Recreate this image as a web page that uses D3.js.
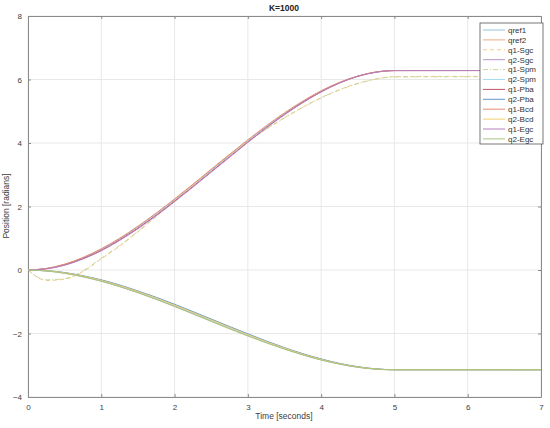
<!DOCTYPE html>
<html>
<head>
<meta charset="utf-8">
<script src="https://cdn.jsdelivr.net/npm/d3@7"></script>
<style>
  body { margin: 0; background: #fff; }
  text { font-family: "Liberation Sans", Arial, sans-serif; }
</style>
</head>
<body>
<svg id="chart" width="550" height="428"></svg>
<script>
// time samples (s)
let time = [0, 0.25, 0.5, 0.75, 1, 1.25, 1.5, 1.75, 2, 2.25, 2.5, 2.75, 3, 3.25, 3.5, 3.75, 4, 4.25, 4.5, 4.75, 5, 7];

// joint 1
let qref1 = [0, 0.046, 0.176, 0.382, 0.653, 0.982, 1.357, 1.770, 2.212, 2.672, 3.142, 3.611, 4.072, 4.513, 4.926, 5.301, 5.630, 5.901, 6.107, 6.238, 6.283, 6.283];
let q1Sgc = [0, -0.33, -0.29, -0.05, 0.35, 0.75, 1.20, 1.68, 2.18, 2.68, 3.17, 3.64, 4.05, 4.44, 4.80, 5.13, 5.43, 5.68, 5.88, 6.02, 6.09, 6.10];
let q1Spm = [0, -0.31, -0.27, -0.03, 0.37, 0.77, 1.22, 1.70, 2.19, 2.69, 3.17, 3.63, 4.04, 4.43, 4.79, 5.12, 5.42, 5.67, 5.87, 6.01, 6.08, 6.09];
let q1Pba = [0, 0.040, 0.160, 0.360, 0.620, 0.950, 1.320, 1.730, 2.170, 2.630, 3.100, 3.570, 4.030, 4.480, 4.900, 5.280, 5.610, 5.890, 6.100, 6.230, 6.280, 6.283];
let q1Bcd = [0, 0.050, 0.185, 0.395, 0.670, 1.000, 1.380, 1.795, 2.240, 2.700, 3.170, 3.640, 4.100, 4.540, 4.950, 5.320, 5.645, 5.910, 6.110, 6.240, 6.283, 6.283];
let q1Egc = [0, 0.035, 0.150, 0.345, 0.605, 0.930, 1.300, 1.710, 2.150, 2.610, 3.080, 3.550, 4.020, 4.470, 4.890, 5.270, 5.610, 5.890, 6.100, 6.230, 6.280, 6.283];

// joint 2
let qref2 = [0, -0.023, -0.088, -0.191, -0.327, -0.491, -0.679, -0.885, -1.106, -1.336, -1.571, -1.806, -2.036, -2.257, -2.463, -2.651, -2.815, -2.951, -3.054, -3.119, -3.142, -3.142];
let q2Sgc = [0, -0.030, -0.100, -0.210, -0.350, -0.520, -0.710, -0.920, -1.140, -1.370, -1.600, -1.830, -2.060, -2.280, -2.480, -2.670, -2.830, -2.960, -3.060, -3.120, -3.142, -3.142];
let q2Spm = [0, -0.025, -0.090, -0.195, -0.330, -0.500, -0.690, -0.900, -1.120, -1.350, -1.585, -1.820, -2.050, -2.270, -2.475, -2.660, -2.820, -2.955, -3.055, -3.120, -3.142, -3.142];
let q2Pba = [0, -0.020, -0.080, -0.180, -0.310, -0.470, -0.660, -0.860, -1.080, -1.310, -1.545, -1.780, -2.010, -2.235, -2.445, -2.635, -2.800, -2.940, -3.045, -3.115, -3.140, -3.142];
let q2Bcd = [0, -0.023, -0.088, -0.191, -0.327, -0.491, -0.679, -0.885, -1.106, -1.336, -1.571, -1.806, -2.036, -2.257, -2.463, -2.651, -2.815, -2.951, -3.054, -3.119, -3.142, -3.142];
let q2Egc = [0, -0.030, -0.105, -0.215, -0.355, -0.525, -0.715, -0.925, -1.150, -1.385, -1.620, -1.855, -2.080, -2.295, -2.495, -2.675, -2.835, -2.965, -3.065, -3.125, -3.142, -3.142];

let xTicks = [0, 1, 2, 3, 4, 5, 6, 7];
let yTicks = [-4, -2, 0, 2, 4, 6, 8];

let seriesNames = ["qref1", "qref2", "q1-Sgc", "q2-Sgc", "q1-Spm", "q2-Spm", "q1-Pba", "q2-Pba", "q1-Bcd", "q2-Bcd", "q1-Egc", "q2-Egc"];
let seriesValues = [qref1, qref2, q1Sgc, q2Sgc, q1Spm, q2Spm, q1Pba, q2Pba, q1Bcd, q2Bcd, q1Egc, q2Egc];
let seriesColors = ["#94c3dc", "#eba888", "#f3c98a", "#b996c6", "#c9d79c", "#a6dcf2", "#c0566a", "#5e98cc", "#e88a6a", "#f0cd6e", "#b77fbf", "#a6c67c"];
let seriesDash = ["", "", "4,3", "", "5,2,1,2", "", "", "", "", "", "", ""];

let svg = d3.select("#chart");
let plotLeft = 28, plotRight = 541, plotTop = 16, plotBottom = 397;

let x = d3.scaleLinear().domain([0, 7]).range([plotLeft, plotRight]);
let y = d3.scaleLinear().domain([-4, 8]).range([plotBottom, plotTop]);

// grid
let grid = svg.append("g");
grid.selectAll(".gx").data(xTicks).enter().append("line")
  .attr("x1", d => x(d)).attr("x2", d => x(d))
  .attr("y1", plotTop).attr("y2", plotBottom)
  .attr("stroke", "#e8e8e8").attr("stroke-width", 1);
grid.selectAll(".gy").data(yTicks).enter().append("line")
  .attr("x1", plotLeft).attr("x2", plotRight)
  .attr("y1", d => y(d)).attr("y2", d => y(d))
  .attr("stroke", "#e8e8e8").attr("stroke-width", 1);

// axes, ticks pointing inward like MATLAB
let tickStyle = g => {
  g.select(".domain").attr("stroke", "#8a8a8a");
  g.selectAll(".tick line").attr("stroke", "#8a8a8a");
  g.selectAll(".tick text").attr("fill", "#404040").style("font-size", "8px");
};

svg.append("g").attr("transform", `translate(0,${plotBottom})`)
  .call(d3.axisBottom(x).tickValues(xTicks).tickSize(-3).tickSizeOuter(0).tickPadding(7).tickFormat(d3.format("d")))
  .call(tickStyle);
svg.append("g").attr("transform", `translate(0,${plotTop})`)
  .call(d3.axisTop(x).tickValues(xTicks).tickSize(-3).tickSizeOuter(0).tickFormat(""))
  .call(tickStyle);
svg.append("g").attr("transform", `translate(${plotLeft},0)`)
  .call(d3.axisLeft(y).tickValues(yTicks).tickSize(-3).tickSizeOuter(0).tickPadding(6).tickFormat(d => d < 0 ? "\u2212" + Math.abs(d) : d))
  .call(tickStyle);
svg.append("g").attr("transform", `translate(${plotRight},0)`)
  .call(d3.axisRight(y).tickValues(yTicks).tickSize(-3).tickSizeOuter(0).tickFormat(""))
  .call(tickStyle);

// lines
let line = d3.line()
  .x((d, i) => x(time[i]))
  .y(d => y(d))
  .curve(d3.curveMonotoneX);

let lines = svg.append("g");
seriesValues.forEach((vals, i) => {
  lines.append("path")
    .attr("d", line(vals))
    .attr("fill", "none")
    .attr("stroke", seriesColors[i])
    .attr("stroke-width", 1)
    .attr("stroke-dasharray", seriesDash[i] || null);
});

// title + labels
svg.append("text").attr("x", 284).attr("y", 11).attr("text-anchor", "middle")
  .style("font-size", "8.5px").style("font-weight", "bold").attr("fill", "#222").text("K=1000");
svg.append("text").attr("x", 284).attr("y", 419).attr("text-anchor", "middle")
  .style("font-size", "8.5px").attr("fill", "#404040").text("Time [seconds]");
svg.append("text").attr("transform", "translate(9,206) rotate(-90)").attr("text-anchor", "middle")
  .style("font-size", "8.5px").attr("fill", "#404040").text("Position [radians]");

// legend
let legend = svg.append("g").attr("transform", "translate(480,23)");
legend.append("rect").attr("width", 63).attr("height", 121)
  .attr("fill", "#fff").attr("stroke", "#555").attr("stroke-width", 0.8);
seriesNames.forEach((name, i) => {
  let ly = 7 + i * 9.9;
  legend.append("line")
    .attr("x1", 3).attr("x2", 25).attr("y1", ly).attr("y2", ly)
    .attr("stroke", seriesColors[i]).attr("stroke-width", 1)
    .attr("stroke-dasharray", seriesDash[i] || null);
  legend.append("text").attr("x", 28).attr("y", ly + 2.8)
    .style("font-size", "8px").attr("fill", "#333").text(name);
});
</script>
</body>
</html>
